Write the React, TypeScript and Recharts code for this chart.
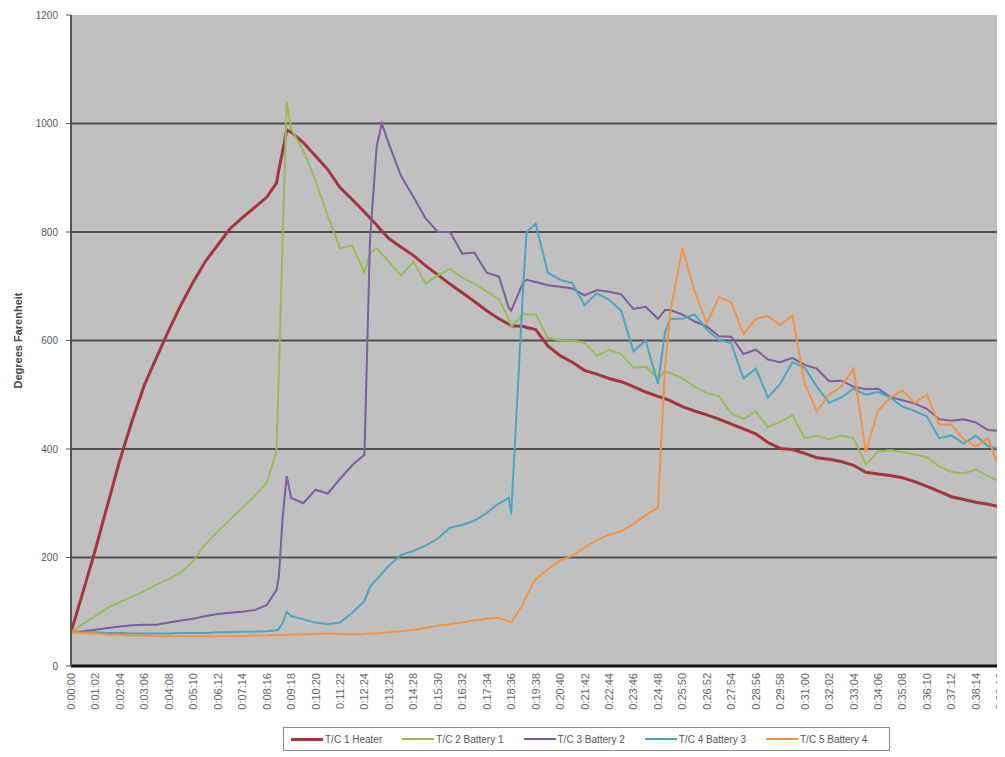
import { CartesianGrid, Legend, Line, LineChart, XAxis, YAxis } from "recharts";

// seconds since start
const times = [
  0, 31, 62, 93, 124, 155, 186, 217, 248, 279, 310, 341, 372, 403, 434, 465,
  496, 521, 527, 537, 547, 558, 589, 620, 651, 682, 713, 744, 758, 775, 788,
  806, 837, 868, 899, 930, 961, 992, 1023, 1054, 1085, 1110, 1116, 1147, 1155,
  1178, 1209, 1240, 1271, 1302, 1333, 1364, 1395, 1426, 1457, 1488, 1506, 1519,
  1550, 1581, 1612, 1643, 1674, 1705, 1736, 1767, 1798, 1829, 1860, 1891, 1922,
  1953, 1984, 2015, 2046, 2077, 2108, 2139, 2170, 2201, 2232, 2263, 2294, 2325,
  2356,
];

const heater = [
  62, 138, 215, 298, 380, 452, 518, 569, 619, 666, 708, 746, 776, 806, 826, 845,
  864, 890, 915, 950, 988, 984, 965, 940, 915, 882, 860, 837, 826, 813, 802,
  788, 772, 757, 738, 721, 704, 688, 672, 655, 640, 630, 627, 626, 624,
  620, 590, 572, 560, 545, 538, 530, 524, 515, 505, 497, 493, 489,
  478, 470, 463, 455, 446, 437, 428, 412, 401, 399, 392, 384, 381,
  377, 370, 357, 354, 351, 347, 340, 331, 322, 312, 307, 302, 298,
  293,
];

const battery1 = [
  62, 78, 92, 107, 118, 128, 138, 150, 160, 172, 194, 225, 248, 270, 291, 313,
  338, 396, 540, 800, 1040, 990, 950, 895, 830, 770, 775, 725, 760, 770, 760,
  745, 720, 745, 705, 720, 732, 716, 705, 690, 676, 640, 625, 650, 648,
  648, 605, 600, 600, 596, 572, 583, 575, 550, 552, 530, 543, 540,
  530, 515, 503, 497, 465, 455, 470, 440, 450, 462, 420, 425, 418,
  425, 420, 372, 395, 398, 394, 390, 385, 368, 358, 355, 362, 350,
  340,
];

const battery2 = [
  62, 64, 67, 70, 73, 75, 76, 76, 80, 84, 87, 92, 96, 98, 100, 103,
  112, 140, 165, 278, 350, 310, 300, 325, 318, 345, 370, 390, 785, 958, 1000,
  962, 903, 865, 825, 800, 800, 760, 762, 725, 718, 660, 655, 708, 712,
  708, 702, 699, 696, 683, 693, 690, 685, 658, 662, 640, 656, 656,
  648, 635, 626, 608, 607, 575, 583, 565, 560, 568, 555, 548, 525,
  526, 515, 510, 511, 496, 490, 484, 474, 455, 452, 455, 449, 435,
  433,
];

const battery3 = [
  62, 62, 62, 61, 61, 60, 60, 60, 60, 61, 61, 61, 62, 62, 63, 63,
  64, 66, 68, 80, 100, 92, 86, 80, 77, 80, 98, 120, 146, 160, 170,
  185, 205, 212, 222, 235, 255, 260, 268, 282, 300, 310, 280, 706, 800,
  815, 725, 712, 706, 665, 687, 675, 655, 580, 600, 520, 615, 640,
  640, 648, 620, 601, 595, 530, 548, 495, 520, 560, 550, 515, 485,
  495, 511, 500, 505, 495, 478, 470, 460, 420, 425, 410, 425, 405,
  400,
];

const battery4 = [
  62, 61, 60, 58, 57, 56, 56, 55, 55, 55, 55, 55, 55, 55, 55, 56,
  56, 57, 57, 57, 57, 58, 58, 59, 60, 59, 58, 59, 60, 60, 61,
  62, 64, 67, 70, 74, 77, 80, 84, 87, 89, 82, 80, 115, 130,
  160, 178, 195, 203, 218, 232, 242, 248, 262, 278, 292, 550, 650,
  770, 690, 632, 680, 670, 612, 640, 645, 628, 646, 520, 470, 500,
  515, 548, 394, 470, 495, 508, 485, 500, 445, 445, 418, 405, 420,
  360,
];

const timeTicks = [
  0, 62, 124, 186, 248, 310, 372, 434, 496, 558, 620, 682, 744, 806, 868, 930,
  992, 1054, 1116, 1178, 1240, 1302, 1364, 1426, 1488, 1550, 1612, 1674, 1736,
  1798, 1860, 1922, 1984, 2046, 2108, 2170, 2232, 2294, 2356,
];

const tempTicks = [0, 200, 400, 600, 800, 1000, 1200];

const seriesInfo = [
  { key: "heater", name: "T/C 1 Heater", color: "#a3363d", width: 3 },
  { key: "battery1", name: "T/C 2 Battery 1", color: "#98b954", width: 2 },
  { key: "battery2", name: "T/C 3 Battery 2", color: "#7b5e9e", width: 2 },
  { key: "battery3", name: "T/C 4 Battery 3", color: "#47a6bf", width: 2 },
  { key: "battery4", name: "T/C 5 Battery 4", color: "#f2913f", width: 2 },
];

const data = times.map((t, i) => ({
  t,
  heater: heater[i],
  battery1: battery1[i],
  battery2: battery2[i],
  battery3: battery3[i],
  battery4: battery4[i],
}));

const fmtTime = (s: number) => {
  const m = Math.floor(s / 60);
  const sec = s % 60;
  return `0:${String(m).padStart(2, "0")}:${String(sec).padStart(2, "0")}`;
};

const TimeTick = (props: any) => {
  const { x, y, payload } = props;
  return (
    <text
      x={x}
      y={y}
      transform={`rotate(-90 ${x} ${y})`}
      textAnchor="end"
      dy={4}
      fontSize={11}
      fill="#666"
      fontFamily="Liberation Sans, Arial, sans-serif"
    >
      {fmtTime(payload.value)}
    </text>
  );
};

const LegendBox = () => (
  <div
    style={{
      display: "flex",
      alignItems: "center",
      height: 24,
      border: "1px solid #8a8a8a",
      background: "#fff",
      paddingLeft: 7,
      fontFamily: "Liberation Sans, Arial, sans-serif",
      fontSize: 10,
      color: "#555",
      boxSizing: "border-box",
    }}
  >
    {seriesInfo.map((s) => (
      <div
        key={s.key}
        style={{ display: "flex", alignItems: "center", marginRight: 20 }}
      >
        <span
          style={{
            display: "inline-block",
            width: 32,
            height: s.width,
            background: s.color,
            marginRight: 2,
          }}
        />
        <span>{s.name}</span>
      </div>
    ))}
  </div>
);

export default function App() {
  return (
    <div style={{ width: 997, height: 749, overflow: "hidden" }}>
      <LineChart
        width={997}
        height={749}
        data={data}
        margin={{ top: 7, right: 0, bottom: 7, left: 0 }}
      >
        <CartesianGrid
          vertical={false}
          fill="#c0c0c0"
          stroke="#505050"
          strokeWidth={2}
          horizontalValues={[200, 400, 600, 800, 1000]}
        />
        <XAxis
          dataKey="t"
          type="number"
          domain={[0, 2368]}
          ticks={timeTicks}
          interval={0}
          height={60}
          tick={<TimeTick />}
          tickLine={false}
          tickSize={4}
          tickMargin={3}
          axisLine={{ stroke: "#111", strokeWidth: 3 }}
          allowDataOverflow
        />
        <YAxis
          type="number"
          domain={[0, 1200]}
          ticks={tempTicks}
          interval={0}
          width={63}
          tickSize={5}
          tickMargin={8}
          tick={{
            fontSize: 10,
            fill: "#555",
            fontFamily: "Liberation Sans, Arial, sans-serif",
          }}
          tickLine={{ stroke: "#555" }}
          axisLine={{ stroke: "#555", strokeWidth: 2 }}
          label={{
            value: "Degrees Farenheit",
            angle: -90,
            position: "insideLeft",
            offset: 10,
            style: {
              textAnchor: "middle",
              fontSize: 11,
              fontWeight: "bold",
              fill: "#444",
              fontFamily: "Liberation Sans, Arial, sans-serif",
            },
          }}
        />
        <Legend
          layout="vertical"
          align="center"
          verticalAlign="bottom"
          content={<LegendBox />}
          wrapperStyle={{ left: 275, top: 719, width: 607, bottom: "auto" }}
        />
        {seriesInfo.map((s) => (
          <Line
            key={s.key}
            type="linear"
            dataKey={s.key}
            name={s.name}
            stroke={s.color}
            strokeWidth={s.width}
            dot={false}
            isAnimationActive={false}
          />
        ))}
      </LineChart>
    </div>
  );
}
